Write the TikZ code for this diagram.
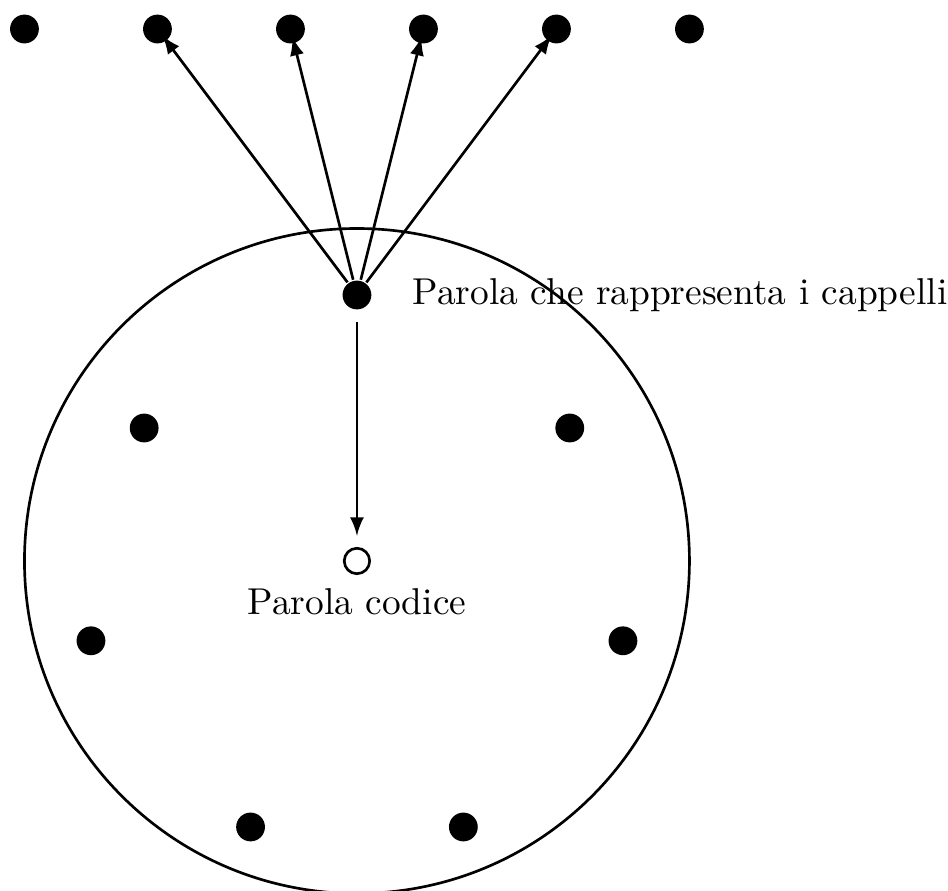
\documentclass[tikz,border=0pt]{standalone}
\usepackage{tikz}
\usetikzlibrary{arrows,positioning}

\begin{document}
\begin{tikzpicture}
[x=1.25cm,y=1.25cm,line width=.25mm,>=latex,
dot/.style={circle,fill=black,inner sep=0pt,minimum size=7.7pt},
hole/.style={circle,draw=black,fill=white,inner sep=0pt,minimum size=6.8pt}]
\useasboundingbox (-2.684,-2.481) rectangle (4.444,4.218);
\draw (0,0) circle (2.5);
% parole in alto
\foreach \i in {1,...,6}
  \node[dot] (s\i) at (\i-3.5,4) {};
% parole nel cerchio
\node[dot] (p1) at (-1.6,1) {};
\node[dot] (p2) at (1.6,1) {};
\node[dot] (p3) at (-2,-0.6) {};
\node[dot] (p4) at (2,-0.6) {};
\node[dot] (p5) at (-0.8,-2) {};
\node[dot] (p6) at (0.8,-2) {};
\node[dot] (cappelli) at (0,2) {};
\node[right=7pt of cappelli] (cappellitesto) {Parola che rappresenta i cappelli};
\node[hole] (codice) at (0,0) {};
\node[below=0pt of codice] (codicetesto) {Parola codice};
\foreach \j in {2,...,5}
  \draw[->,shorten >=-2pt] (cappelli) -- (s\j);
\draw[->,shorten <=3pt,shorten >=3pt] (cappelli) -- (codice);
\end{tikzpicture}
\end{document}
